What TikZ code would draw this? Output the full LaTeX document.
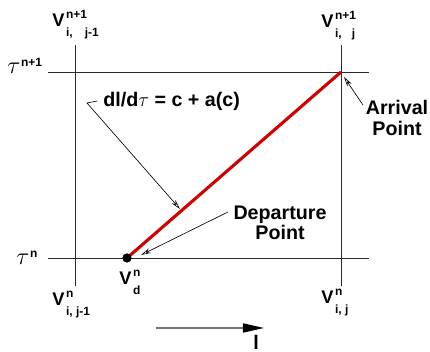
\documentclass[tikz,border=0pt]{standalone}
\usepackage{fontspec}
\setmainfont{Liberation Sans}
\usetikzlibrary{arrows.meta}
\definecolor{gridgray}{HTML}{2A2A2A}
\definecolor{pathred}{HTML}{D00000}

\newcommand{\scr}[1]{{\fontsize{8.5}{9}\selectfont\bfseries #1}}
\newcommand{\vlab}[2]{V\hspace{1.2pt}\makebox[0pt][l]{\raisebox{6.3pt}{\scr{#1}}}\raisebox{-6.5pt}{\scr{#2}}}
\newcommand{\taulab}[1]{$\tau$\hspace{0.5pt}\raisebox{5.5pt}{\scr{#1}}}

\begin{document}
\begin{tikzpicture}[
    x=0.025cm, y=-0.025cm,
    gridline/.style={draw=gridgray, line width=0.7pt},
    redpath/.style={draw=pathred, line width=2.2pt},
    leader/.style={draw=black, line width=0.45pt, -{Stealth[open, length=7pt, width=3.6pt]}},
    dirarrow/.style={draw=black!55, line width=0.9pt, -{Triangle[black, length=15pt, width=6.5pt]}},
    dotnode/.style={circle, fill=black, inner sep=0pt, minimum size=6.4pt},
    vnode/.style={font=\fontsize{13}{13}\selectfont\bfseries, inner sep=0pt, anchor=base west},
    taunode/.style={font=\fontsize{17}{17}\selectfont\bfseries, inner sep=0pt, anchor=base west},
    textnode/.style={font=\fontsize{14}{14.5}\selectfont\bfseries, inner sep=0pt, align=center}
]
    \useasboundingbox (0,0) rectangle (430,352);

    % Griglia: estremi delle linee
    \coordinate (topw) at (48,72);
    \coordinate (tope) at (369,72);
    \coordinate (botw) at (48,258);
    \coordinate (bote) at (369,258);
    \coordinate (lefn) at (75,45);
    \coordinate (lefs) at (75,286);
    \coordinate (rign) at (341,45);
    \coordinate (rigs) at (341,286);

    \draw[gridline] (topw) -- (tope);
    \draw[gridline] (botw) -- (bote);
    \draw[gridline] (lefn) -- (lefs);
    \draw[gridline] (rign) -- (rigs);

    % Traiettoria: partenza -> arrivo
    \coordinate (arr) at (341,72);
    \node[dotnode] (dep) at (127,258) {};
    \draw[redpath] (dep.center) -- (arr);
    \node[dotnode] at (dep) {};

    % Etichette dei nodi di griglia
    \node[vnode] (vtl) at (52,27) {\vlab{n+1}{i,\ \ \ \,j-1}};
    \node[vnode] (vtr) at (321,28) {\vlab{n+1}{i,\ \ \ j}};
    \node[vnode] (vbl) at (52,306) {\vlab{n}{i, j-1}};
    \node[vnode] (vbr) at (321,304) {\vlab{n}{i, j}};
    \node[vnode] (vd) at (119,285) {\vlab{n}{d}};

    % Livelli temporali
    \node[taunode] (tautop) at (7,74) {\taulab{n+1}};
    \node[taunode] (taubot) at (16,265) {\taulab{n}};

    % Equazione con richiamo
    \node[textnode, anchor=west] (eqn) at (103,101) {dl/d$\tau$ = c + a(c)};
    \coordinate (eqnknee) at (87,103);
    \coordinate (eqntip) at (180,209);
    \draw[leader] ([xshift=-4pt]eqn.west) -- (eqnknee) -- (eqntip);

    % Punto di arrivo
    \node[textnode] (arrlab) at (397,118) {Arrival\\Point};
    \coordinate (arrfoot) at (363,105);
    \coordinate (arrtip) at (344,77);
    \draw[leader] (arrfoot) -- (arrtip);

    % Punto di partenza
    \node[textnode] (deplab) at (280,223) {Departure\\Point};
    \coordinate (depfoot) at (228,212);
    \coordinate (deptip) at (141,255);
    \draw[leader] (depfoot) -- (deptip);

    % Direzione l
    \coordinate (lstart) at (156,328);
    \coordinate (lend) at (264,328);
    \draw[dirarrow] (lstart) -- (lend);
    \node[textnode, anchor=north] (llab) at (256,335) {l};

\end{tikzpicture}
\end{document}
